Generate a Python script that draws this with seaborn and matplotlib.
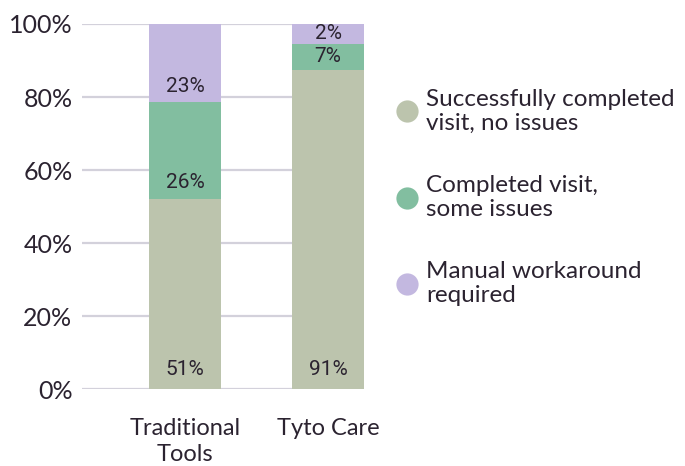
import numpy as np
import matplotlib
matplotlib.use("Agg")
import matplotlib.pyplot as plt
from matplotlib.lines import Line2D
import pandas as pd
import seaborn as sns

# data
groups = ["Traditional\nTools", "Tyto Care"]
series = ["Successfully completed\nvisit, no issues",
          "Completed visit,\nsome issues",
          "Manual workaround\nrequired"]
# segment heights as drawn (percent)
no_issues = [52.1, 87.4]
some_issues = [26.5, 7.2]
workaround = [21.4, 5.4]
# labels printed on the segments
no_issues_lbl = ["51%", "91%"]
some_issues_lbl = ["26%", "7%"]
workaround_lbl = ["23%", "2%"]
yticks = [0, 20, 40, 60, 80, 100]

colors = ["#bcc4ad", "#82bea0", "#c3b8e0"]
txt = "#2b2330"

sns.set_theme(style="white")
plt.rcParams["font.family"] = ["Lato", "DejaVu Sans"]
plt.rcParams["text.color"] = txt

fig = plt.figure(figsize=(6.85, 4.66), dpi=100)
ax = fig.add_axes([0.12, 0.1646, 0.411, 0.7839])

df = pd.DataFrame({"group": groups,
                   "no_issues": no_issues,
                   "some_issues": some_issues,
                   "workaround": workaround})
cols = ["no_issues", "some_issues", "workaround"]
labels = [no_issues_lbl, some_issues_lbl, workaround_lbl]

# cumulative tops, drawn from the tallest down so lower segments overlay
tops = df[cols].cumsum(axis=1)
for k in reversed(range(len(cols))):
    sns.barplot(x=df["group"], y=tops[cols[k]], color=colors[k], ax=ax,
                width=0.5, saturation=1, order=groups, linewidth=0, zorder=3)

bottoms = tops - df[cols]
for k, c in enumerate(cols):
    for i in range(len(groups)):
        v = df[c].iloc[i]
        off = 5.3 if k == 0 else min(4.4, v / 2)
        ax.text(i, bottoms[c].iloc[i] + off, labels[k][i], ha="center",
                va="center", fontsize=15, family=["Roboto", "DejaVu Sans"],
                color=txt, zorder=4)

ax.set_xlim(-0.72, 1.25)
ax.set_ylim(0, 100)
ax.set_yticks(yticks)
ax.set_yticklabels([f"{t}%" for t in yticks])
ax.yaxis.grid(True, color="#d3d1db", linewidth=1.6, zorder=0)
ax.set_axisbelow(True)
ax.set_xlabel("")
ax.set_ylabel("")
for sp in ax.spines.values():
    sp.set_visible(False)
ax.tick_params(axis="y", length=0, pad=7, labelsize=18, labelcolor=txt)
ax.tick_params(axis="x", length=0, pad=21, labelsize=17, labelcolor=txt)
ax.set_xticks(range(len(groups)))
ax.set_xticklabels(groups, linespacing=1.25)

handles = [Line2D([0], [0], marker="o", linestyle="", markersize=16,
                  markerfacecolor=c, markeredgewidth=0) for c in colors]
fig.legend(handles, series, loc="upper left", bbox_to_anchor=(0.555, 0.836),
           frameon=False, fontsize=17.5, labelspacing=1.68,
           handletextpad=0.2, handlelength=1.2, borderpad=0)

fig.savefig("out.png", dpi=100)
